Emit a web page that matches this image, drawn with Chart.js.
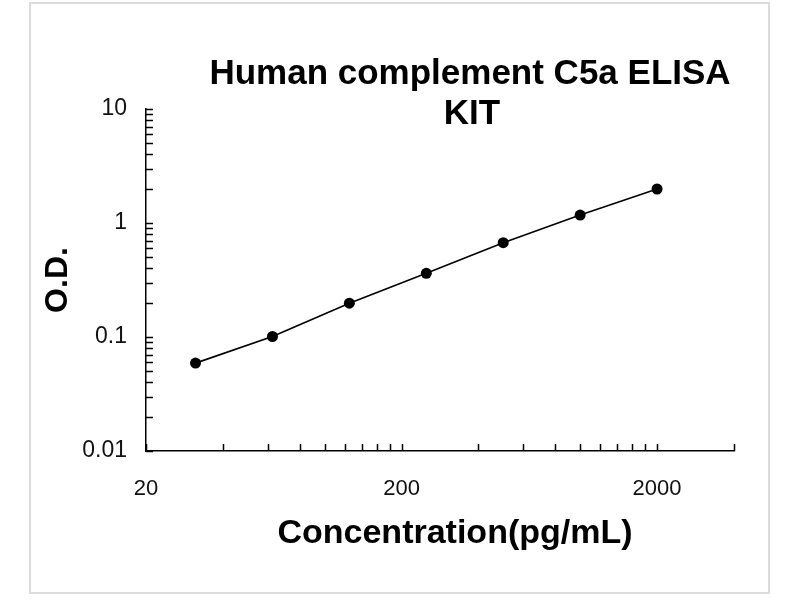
<!DOCTYPE html>
<html>
<head>
<meta charset="utf-8">
<title>Human complement C5a ELISA KIT</title>
<script src="https://cdn.jsdelivr.net/npm/chart.js@4.4.1/dist/chart.umd.min.js"></script>
<style>
  body { margin: 0; background: #fff; }
  #wrap { position: relative; width: 800px; height: 600px; }
  #frame {
    position: absolute; left: 29px; top: 2px; width: 741px; height: 592px;
    border: 2px solid #dcdcdc; box-sizing: border-box;
  }
  #curve { position: absolute; left: 0; top: 0; }
</style>
</head>
<body>
<div id="wrap">
  <div id="frame"></div>
  <canvas id="curve" width="800" height="600"></canvas>
</div>
<script>
// Standard curve (log-log)
const concentration = [31.25, 62.5, 125, 250, 500, 1000, 2000];
const od = [0.059, 0.101, 0.198, 0.362, 0.672, 1.175, 1.987];

const titleLines = ['Human complement C5a ELISA', 'KIT'];
const xTitle = 'Concentration(pg/mL)';

// tick marks on the axes, and which of them carry a label
const xTickValues = [20, 40, 60, 80, 100, 120, 140, 160, 180, 200,
  400, 600, 800, 1000, 1200, 1400, 1600, 1800, 2000, 4000];
const xTickLabels = { 20: '20', 200: '200', 2000: '2000' };
const yTickValues = [0.01, 0.02, 0.03, 0.04, 0.05, 0.06, 0.07, 0.08, 0.09,
  0.1, 0.2, 0.3, 0.4, 0.5, 0.6, 0.7, 0.8, 0.9,
  1, 2, 3, 4, 5, 6, 7, 8, 9, 10];
const yTickLabels = { 0.01: '0.01', 0.1: '0.1', 1: '1', 10: '10' };

const FONT = "'Liberation Sans', Arial, sans-serif";

// inward tick marks, chart title and x-axis title
const decorPlugin = {
  id: 'decor',
  afterDraw(chart) {
    const ctx = chart.ctx;
    const area = chart.chartArea;
    const xs = chart.scales.x;
    const ys = chart.scales.y;
    ctx.save();
    ctx.strokeStyle = '#000';
    ctx.lineWidth = 1.5;
    ctx.beginPath();
    xs.ticks.forEach(t => {
      const px = Math.round(xs.getPixelForValue(t.value)) + 0.5;
      ctx.moveTo(px, area.bottom);
      ctx.lineTo(px, area.bottom - 7);
    });
    ys.ticks.forEach(t => {
      const py = Math.round(ys.getPixelForValue(t.value)) + 0.5;
      ctx.moveTo(area.left, py);
      ctx.lineTo(area.left + 7, py);
    });
    ctx.stroke();

    ctx.fillStyle = '#000';
    ctx.textAlign = 'center';
    ctx.textBaseline = 'alphabetic';
    ctx.font = 'bold 35px ' + FONT;
    ctx.fillText(titleLines[0], 470, 84);
    ctx.fillText(titleLines[1], 472, 124);
    ctx.font = 'bold 34px ' + FONT;
    ctx.fillText(xTitle, 455, 543);
    ctx.restore();
  }
};

const points = concentration.map((c, i) => ({ x: c, y: od[i] }));

new Chart(document.getElementById('curve'), {
  type: 'line',
  data: {
    datasets: [{
      data: points,
      borderColor: '#000',
      borderWidth: 1.6,
      backgroundColor: '#000',
      pointRadius: 5.5,
      pointBorderWidth: 0,
      pointBackgroundColor: '#000',
      tension: 0,
      fill: false
    }]
  },
  options: {
    responsive: false,
    animation: false,
    devicePixelRatio: 1,
    layout: { padding: { left: 20, right: 66, top: 109, bottom: 10 } },
    plugins: {
      legend: { display: false },
      tooltip: { enabled: false },
      title: { display: false }
    },
    scales: {
      x: {
        type: 'logarithmic',
        min: 20,
        max: 4000,
        afterBuildTicks: scale => {
          scale.ticks = xTickValues.map(v => ({ value: v }));
        },
        afterFit: scale => { scale.height = 139; },
        grid: { display: false },
        border: { display: true, color: '#000', width: 1.5 },
        ticks: {
          autoSkip: false,
          maxRotation: 0,
          padding: 17,
          color: '#111',
          font: { family: FONT, size: 22 },
          callback: value => xTickLabels[value] || ''
        }
      },
      y: {
        type: 'logarithmic',
        min: 0.01,
        max: 10,
        afterBuildTicks: scale => {
          scale.ticks = yTickValues.map(v => ({ value: v }));
        },
        afterFit: scale => { scale.width = 126; },
        grid: { display: false },
        border: { display: true, color: '#000', width: 1.5 },
        ticks: {
          autoSkip: false,
          padding: 11,
          color: '#111',
          font: { family: FONT, size: 23 },
          callback: value => yTickLabels[value] || ''
        },
        title: {
          display: true,
          text: 'O.D.',
          color: '#000',
          font: { family: FONT, size: 32, weight: 'bold' },
          padding: { top: 19, bottom: 0 }
        }
      }
    }
  },
  plugins: [decorPlugin]
});
</script>
</body>
</html>
